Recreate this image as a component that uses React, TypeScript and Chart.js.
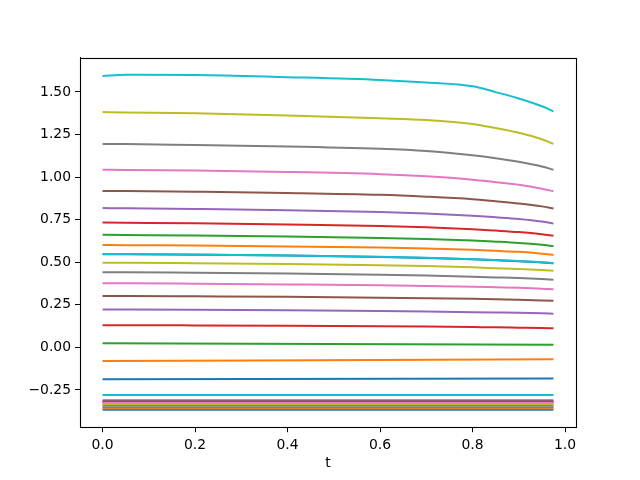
import React, { useEffect, useRef } from "react";
import { Chart, registerables } from "chart.js";

Chart.register(...registerables);

// time samples
const T_FULL = [0, 0.05, 0.2, 0.4, 0.6, 0.7, 0.8, 0.85, 0.9, 0.95, 0.975];
const T_ENDS = [0, 0.975];

// series values (index order = matplotlib plotting order)
const S00 = [-0.366, -0.366];
const S01 = [-0.358, -0.358];
const S02 = [-0.340, -0.340];
const S03 = [-0.322, -0.322];
const S04 = [-0.311, -0.311];
const S05 = [-0.316, -0.316];
const S06 = [-0.327, -0.327];
const S07 = [-0.352, -0.352];
const S08 = [-0.334, -0.334];
const S09 = [-0.279, -0.279];
const S10 = [-0.187, -0.183];
const S11 = [-0.080, -0.069];
const S12 = [0.025, 0.016];
const S13 = [0.130, 0.130, 0.129, 0.127, 0.124, 0.122, 0.119, 0.118, 0.116, 0.114, 0.112];
const S14 = [0.222, 0.222, 0.221, 0.218, 0.214, 0.211, 0.207, 0.205, 0.203, 0.200, 0.198];
const S15 = [0.302, 0.302, 0.300, 0.297, 0.292, 0.289, 0.285, 0.282, 0.280, 0.276, 0.274];
const S16 = [0.376, 0.376, 0.374, 0.370, 0.365, 0.361, 0.356, 0.353, 0.350, 0.345, 0.341];
const S17 = [0.441, 0.441, 0.438, 0.434, 0.427, 0.422, 0.415, 0.411, 0.407, 0.401, 0.397];
const S18 = [0.497, 0.497, 0.494, 0.490, 0.483, 0.478, 0.470, 0.465, 0.460, 0.454, 0.450];
const S19 = [0.548, 0.548, 0.545, 0.540, 0.532, 0.526, 0.518, 0.513, 0.507, 0.500, 0.495];
const S20 = [0.547, 0.547, 0.544, 0.539, 0.531, 0.525, 0.517, 0.512, 0.506, 0.499, 0.494];
const S21 = [0.601, 0.600, 0.598, 0.593, 0.586, 0.581, 0.573, 0.567, 0.561, 0.550, 0.542];
const S22 = [0.661, 0.660, 0.657, 0.651, 0.643, 0.637, 0.628, 0.621, 0.613, 0.602, 0.595];
const S23 = [0.733, 0.732, 0.729, 0.722, 0.713, 0.705, 0.694, 0.686, 0.677, 0.664, 0.655];
const S24 = [0.818, 0.817, 0.813, 0.806, 0.795, 0.786, 0.773, 0.764, 0.754, 0.739, 0.728];
const S25 = [0.919, 0.918, 0.914, 0.907, 0.896, 0.885, 0.870, 0.858, 0.845, 0.828, 0.816];
const S26 = [1.043, 1.042, 1.038, 1.030, 1.017, 1.005, 0.985, 0.970, 0.955, 0.932, 0.917];
const S27 = [1.195, 1.194, 1.188, 1.180, 1.166, 1.153, 1.128, 1.111, 1.090, 1.062, 1.043];
const S28 = [1.382, 1.380, 1.375, 1.362, 1.345, 1.335, 1.312, 1.288, 1.260, 1.222, 1.195];
const S29 = [1.593, 1.601, 1.600, 1.587, 1.570, 1.555, 1.533, 1.499, 1.462, 1.416, 1.386];

const SERIES = [
  { t: T_ENDS, v: S00 }, { t: T_ENDS, v: S01 }, { t: T_ENDS, v: S02 }, { t: T_ENDS, v: S03 },
  { t: T_ENDS, v: S04 }, { t: T_ENDS, v: S05 }, { t: T_ENDS, v: S06 }, { t: T_ENDS, v: S07 },
  { t: T_ENDS, v: S08 }, { t: T_ENDS, v: S09 }, { t: T_ENDS, v: S10 }, { t: T_ENDS, v: S11 },
  { t: T_ENDS, v: S12 }, { t: T_FULL, v: S13 }, { t: T_FULL, v: S14 }, { t: T_FULL, v: S15 },
  { t: T_FULL, v: S16 }, { t: T_FULL, v: S17 }, { t: T_FULL, v: S18 }, { t: T_FULL, v: S19 },
  { t: T_FULL, v: S20 }, { t: T_FULL, v: S21 }, { t: T_FULL, v: S22 }, { t: T_FULL, v: S23 },
  { t: T_FULL, v: S24 }, { t: T_FULL, v: S25 }, { t: T_FULL, v: S26 }, { t: T_FULL, v: S27 },
  { t: T_FULL, v: S28 }, { t: T_FULL, v: S29 },
];

const COLORS = [
  "#1f77b4", "#ff7f0e", "#2ca02c", "#d62728", "#9467bd",
  "#8c564b", "#e377c2", "#7f7f7f", "#bcbd22", "#17becf",
];

const X_TICKS = [0, 0.2, 0.4, 0.6, 0.8, 1.0];
const Y_TICKS = [-0.25, 0, 0.25, 0.5, 0.75, 1.0, 1.25, 1.5];
const X_LABEL = "t";

const FONT = { family: "'DejaVu Sans', sans-serif", size: 13.9 };

const framePlugin = {
  id: "frame",
  afterDatasetsDraw(chart: any) {
    const { ctx, chartArea } = chart;
    ctx.save();
    ctx.strokeStyle = "#000";
    ctx.lineWidth = 1.1;
    ctx.strokeRect(
      Math.round(chartArea.left) + 0.5,
      Math.round(chartArea.top) + 0.5,
      Math.round(chartArea.right) - Math.round(chartArea.left),
      Math.round(chartArea.bottom) - Math.round(chartArea.top)
    );
    ctx.restore();
  },
};

export default function App() {
  const ref = useRef<HTMLCanvasElement | null>(null);

  useEffect(() => {
    document.body.style.margin = "0";
    const canvas = ref.current;
    if (!canvas) return;
    const datasets = SERIES.map((s, i) => ({
      label: "s" + i,
      data: s.t.map((t, k) => ({ x: t, y: s.v[k] })),
      borderColor: COLORS[i % 10],
      backgroundColor: COLORS[i % 10],
      borderWidth: 2,
      pointRadius: 0,
      cubicInterpolationMode: "monotone" as const,
      fill: false,
      order: i === 20 ? 100 - 18.5 : 100 - i,
    }));
    const chart = new Chart(canvas, {
      type: "line",
      data: { datasets },
      plugins: [framePlugin],
      options: {
        animation: false,
        responsive: true,
        maintainAspectRatio: false,
        layout: { padding: { top: 57.6, right: 64, left: 0, bottom: 0 } },
        plugins: { legend: { display: false }, tooltip: { enabled: false } },
        scales: {
          x: {
            type: "linear",
            min: -0.04875,
            max: 1.02375,
            afterBuildTicks: (s: any) => {
              s.ticks = X_TICKS.map((v) => ({ value: v }));
            },
            afterFit: (s: any) => {
              s.height = 52.8;
            },
            ticks: {
              callback: (v: any) => Number(v).toFixed(1),
              font: FONT,
              color: "#000",
              padding: 5,
              maxRotation: 0,
              autoSkip: false,
            },
            grid: {
              drawOnChartArea: false,
              drawTicks: true,
              tickLength: 5,
              tickColor: "#000",
              tickWidth: 1,
            },
            border: { display: true, color: "#000", width: 1 },
            title: {
              display: true,
              text: X_LABEL,
              font: FONT,
              color: "#000",
              padding: { top: 0, bottom: 8 },
            },
          },
          y: {
            type: "linear",
            min: -0.4687,
            max: 1.7017,
            afterBuildTicks: (s: any) => {
              s.ticks = Y_TICKS.map((v) => ({ value: v }));
            },
            afterFit: (s: any) => {
              s.width = 80;
            },
            ticks: {
              callback: (v: any) => {
                const n = Number(v);
                const str = Math.abs(n).toFixed(2);
                return n < 0 ? "\u2212" + str : str;
              },
              font: FONT,
              color: "#000",
              padding: 4,
              autoSkip: false,
            },
            grid: {
              drawOnChartArea: false,
              drawTicks: true,
              tickLength: 5,
              tickColor: "#000",
              tickWidth: 1,
            },
            border: { display: true, color: "#000", width: 1 },
          },
        },
      },
    });
    return () => chart.destroy();
  }, []);

  return (
    <div style={{ position: "absolute", left: 0, top: 0, width: 640, height: 480, background: "#fff" }}>
      <canvas ref={ref} />
    </div>
  );
}
